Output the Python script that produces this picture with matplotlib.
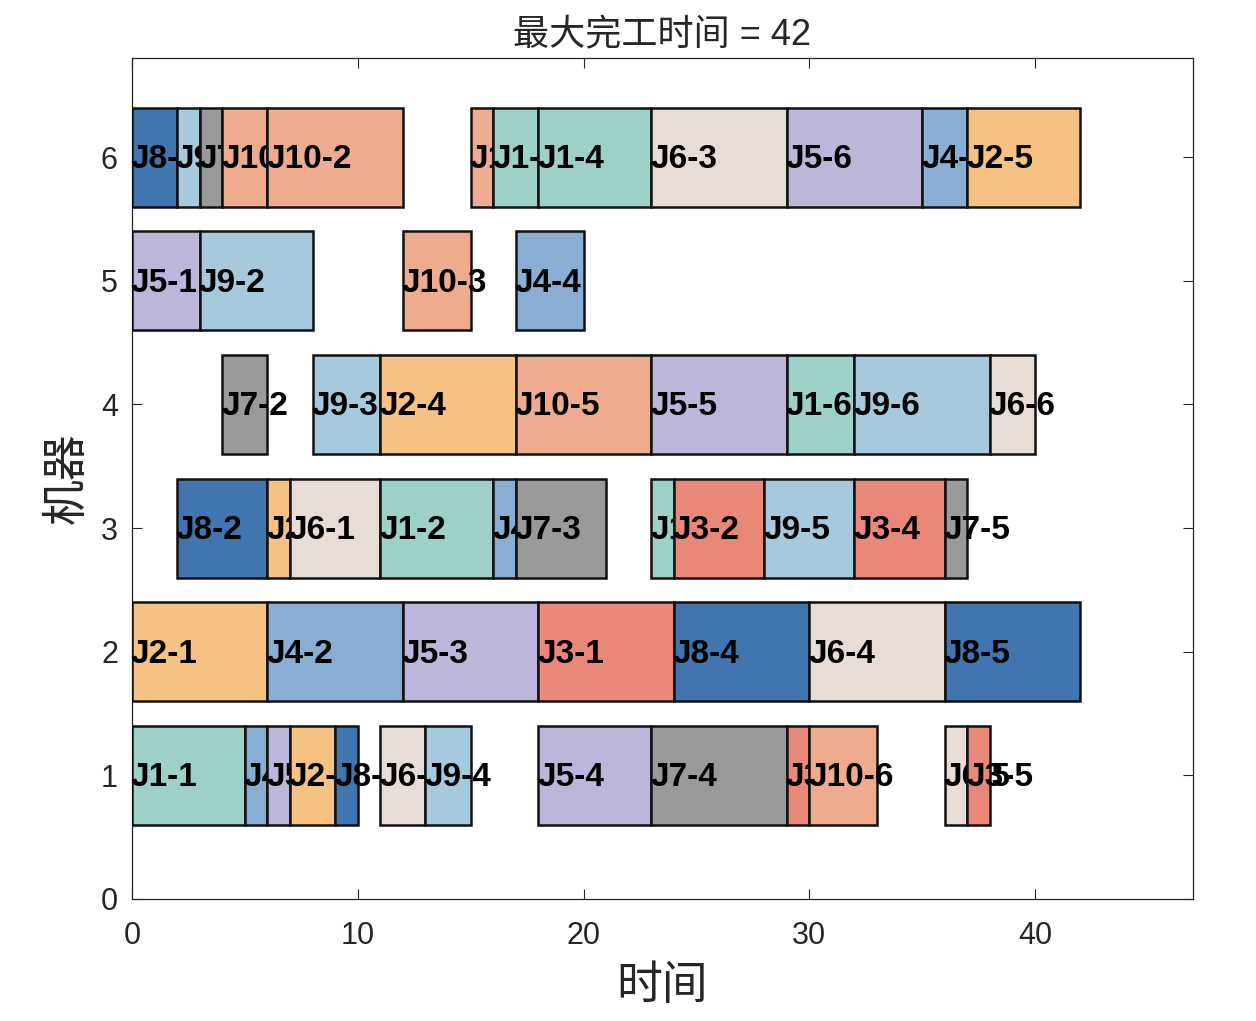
import matplotlib
matplotlib.use('Agg')
import matplotlib.pyplot as plt
from matplotlib.patches import Rectangle

plt.rcParams['font.family'] = ['Liberation Sans', 'Noto Sans CJK SC']
plt.rcParams['axes.unicode_minus'] = False

# 工序数据（按开始时间排列）
jobs = [8, 5, 2, 1, 9, 8, 7, 9, 10, 7, 4, 10, 4, 2, 5, 6, 2, 9, 8, 2,
        1, 6, 10, 5, 9, 10, 1, 4, 10, 7, 4, 1, 3, 5, 6, 5, 1, 7, 3, 8,
        9, 5, 1, 3, 10, 6, 9, 3, 4, 8, 7, 6, 2, 3, 6]
ops = [1, 1, 1, 1, 1, 2, 1, 2, 1, 2, 1, 2, 2, 2, 2, 1, 3, 3, 3, 4,
       2, 2, 3, 3, 4, 4, 3, 3, 5, 3, 4, 4, 1, 4, 3, 5, 5, 4, 2, 4,
       5, 6, 6, 3, 6, 4, 6, 4, 5, 5, 5, 5, 5, 5, 6]
machines = [6, 5, 2, 1, 6, 3, 6, 5, 6, 4, 1, 6, 2, 3, 1, 3, 1, 4, 1, 4,
            3, 1, 5, 2, 1, 6, 6, 3, 4, 3, 5, 6, 2, 1, 6, 4, 3, 1, 3, 2,
            3, 6, 4, 1, 1, 2, 4, 3, 6, 2, 3, 1, 6, 1, 4]
starts = [0, 0, 0, 0, 2, 2, 3, 3, 4, 4, 5, 6, 6, 6, 6, 7, 7, 8, 9, 11,
          11, 11, 12, 12, 13, 15, 16, 16, 17, 17, 17, 18, 18, 18, 23, 23, 23, 23, 24, 24,
          28, 29, 29, 29, 30, 30, 32, 32, 35, 36, 36, 36, 37, 37, 38]
durations = [2, 3, 6, 5, 1, 4, 1, 5, 2, 2, 1, 6, 6, 1, 1, 4, 2, 3, 1, 6,
             5, 2, 3, 6, 2, 1, 2, 1, 6, 4, 3, 5, 6, 5, 6, 6, 1, 6, 4, 6,
             4, 6, 3, 1, 3, 6, 6, 4, 2, 6, 1, 1, 5, 1, 2]

job_colors = {
    1: '#9dd1c8', 2: '#f6c283', 3: '#e98878', 4: '#89aed3', 5: '#bcb6db',
    6: '#e7ddd6', 7: '#9a9a9a', 8: '#4075b0', 9: '#a7c9dd', 10: '#eeab8e',
}

makespan = max(s + d for s, d in zip(starts, durations))

fig = plt.figure(figsize=(12.56, 10.21), dpi=100)
ax = fig.add_axes([0.105, 0.1195, 0.845, 0.8235])

h = 0.8
z = 3
for j, o, m, s, d in zip(jobs, ops, machines, starts, durations):
    ax.add_patch(Rectangle((s, m - h / 2), d, h, facecolor=job_colors[j],
                           edgecolor='#111111', linewidth=1.8, zorder=z))
    ax.text(s - 0.05, m - 0.02, f'J{j}-{o}', ha='left', va='center', fontsize=24,
            fontweight='bold', color='black', zorder=z + 1)
    z += 2

ax.set_xlim(0, 47)
ax.set_ylim(0, 6.8)
ax.set_xticks([0, 10, 20, 30, 40])
ax.set_yticks(range(7))
ax.tick_params(direction='in', length=7, width=0.8, labelsize=22,
               colors='#262626', top=True, right=True)
ax.tick_params(axis='x', pad=16)
ax.tick_params(axis='y', pad=10)
for sp in ax.spines.values():
    sp.set_color('#262626')
    sp.set_linewidth(0.9)

ax.set_title(f'最大完工时间 = {makespan}', fontsize=26, color='#262626', pad=9)
ax.set_xlabel('时间', fontsize=33, color='#262626', labelpad=10)
ax.set_ylabel('机器', fontsize=33, color='#262626', labelpad=8)

fig.savefig('out.png', dpi=100)
